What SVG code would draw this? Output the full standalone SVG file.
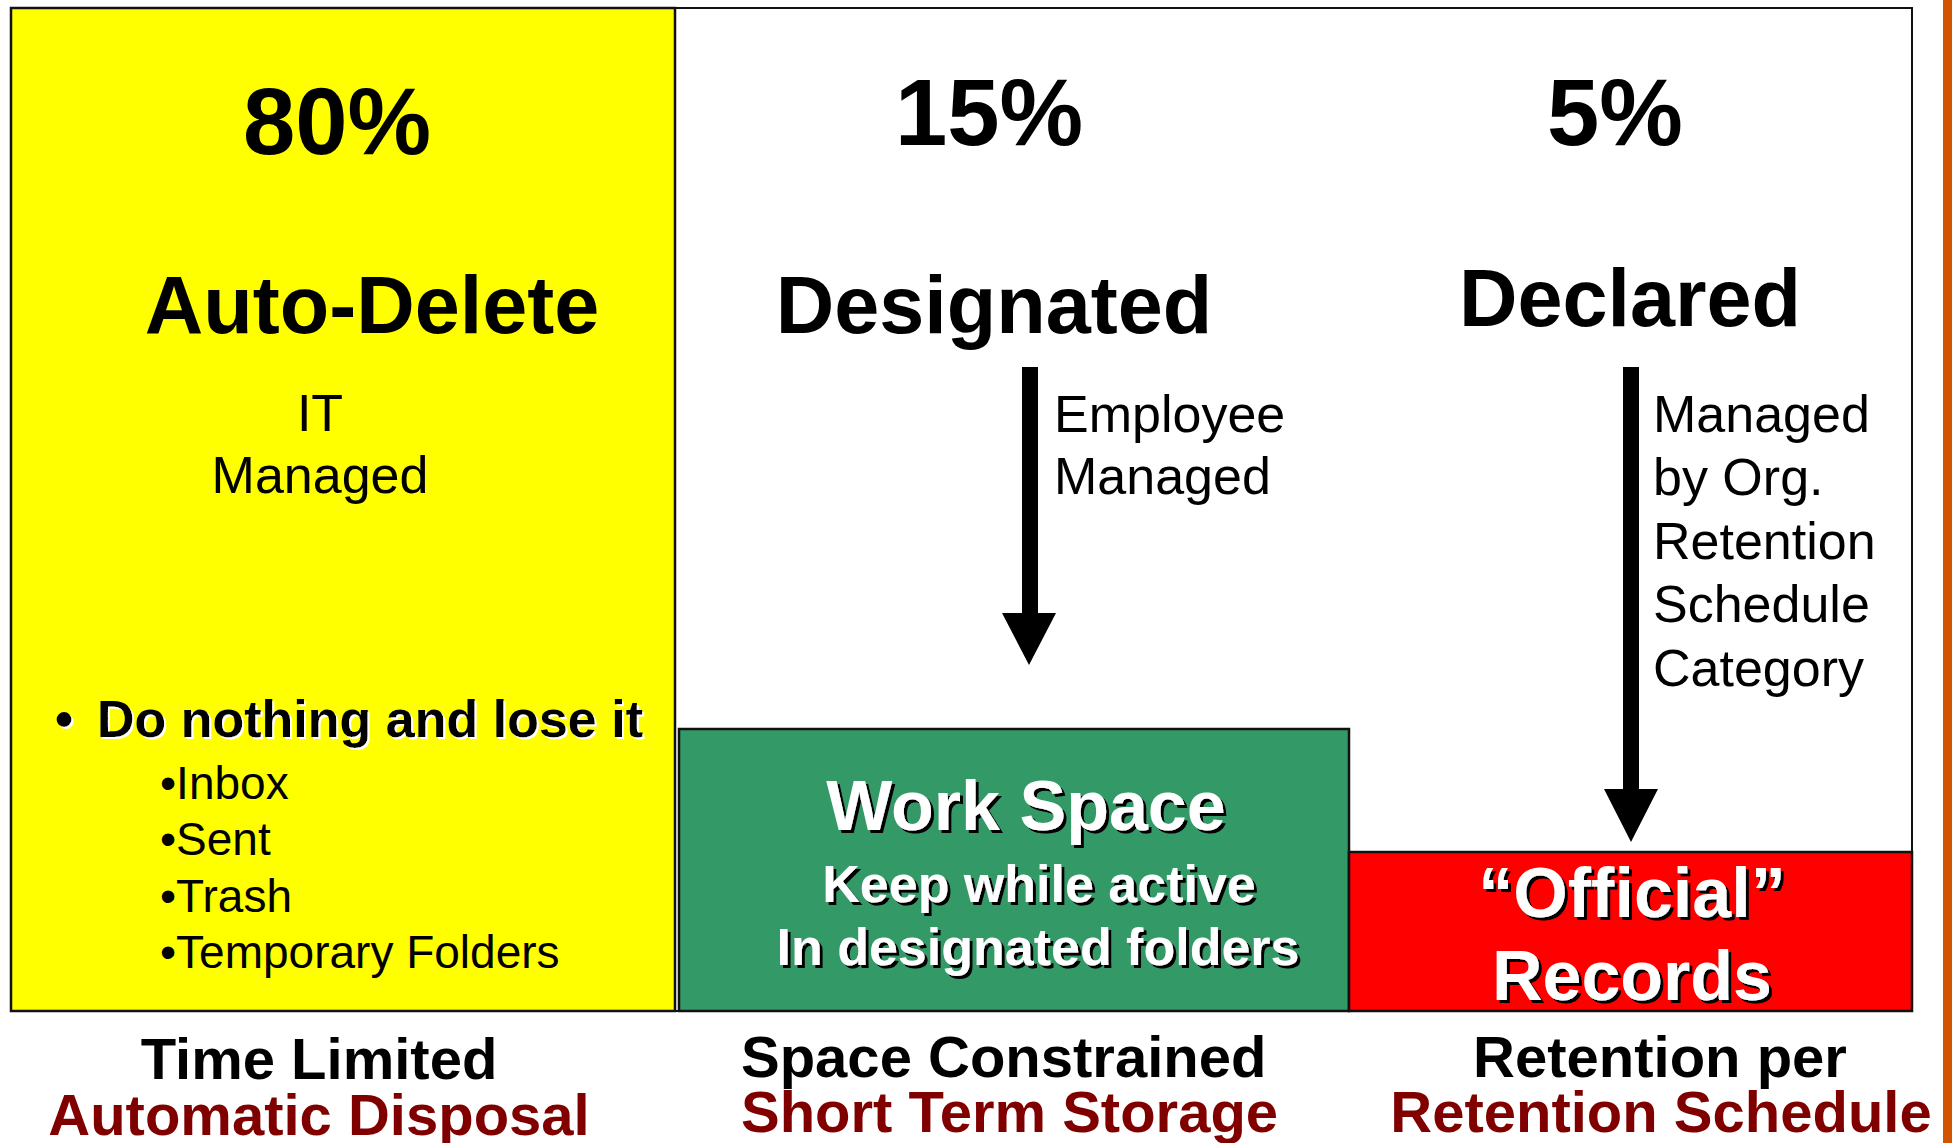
<svg xmlns="http://www.w3.org/2000/svg" width="1952" height="1143" viewBox="0 0 1952 1143">
  <style>
    text { font-family: "Liberation Sans", Arial, sans-serif; }
    .big { font-size: 94px; font-weight: bold; text-anchor: middle; }
    .title { font-size: 81px; font-weight: bold; text-anchor: middle; }
    .reg { font-size: 52px; }
    .item { font-size: 46px; }
    .foot { font-size: 58px; font-weight: bold; text-anchor: middle; }
    .foot-l { font-size: 58px; font-weight: bold; }
    .dark { fill: #800000; }
    .box-title { font-size: 70px; font-weight: bold; fill: #ffffff; text-anchor: middle; filter: url(#shadowDark); }
    .box-sub { font-size: 52px; font-weight: bold; fill: #ffffff; text-anchor: middle; filter: url(#shadowDark); }
    .arrow { fill: #000000; }
  </style>
  <defs>
    <filter id="shadowDark" x="-5%" y="-20%" width="115%" height="150%">
      <feOffset in="SourceAlpha" dx="3" dy="3" result="off"/>
      <feFlood flood-color="#000000"/>
      <feComposite in2="off" operator="in" result="sh"/>
      <feMerge><feMergeNode in="sh"/><feMergeNode in="SourceGraphic"/></feMerge>
    </filter>
    <filter id="shadowLight" x="-5%" y="-20%" width="115%" height="150%">
      <feOffset in="SourceAlpha" dx="2" dy="2" result="off"/>
      <feFlood flood-color="#ffffff"/>
      <feComposite in2="off" operator="in" result="sh"/>
      <feMerge><feMergeNode in="sh"/><feMergeNode in="SourceGraphic"/></feMerge>
    </filter>
  </defs>

  <rect x="0" y="0" width="1952" height="1143" fill="#ffffff"/>
  <!-- accent bar on the right edge -->
  <rect x="1943" y="0" width="9" height="1143" fill="#D35400"/>

  <!-- outer frame for the designated / declared columns -->
  <g id="frame">
    <rect x="675" y="8" width="1237" height="1003" fill="#ffffff" stroke="#111111" stroke-width="2"/>
  </g>

  <!-- auto-delete column -->
  <g id="auto-delete">
    <rect x="11" y="8" width="664" height="1003" fill="#FFFF00" stroke="#111111" stroke-width="2.5"/>
    <text class="big" x="337" y="154">80%</text>
    <text class="title" x="372" y="333">Auto-Delete</text>
    <text class="reg" x="320" y="431" text-anchor="middle">IT</text>
    <text class="reg" x="320" y="493" text-anchor="middle">Managed</text>
    <g filter="url(#shadowLight)">
      <text x="55" y="737" font-size="52" font-weight="bold">•</text>
      <text x="97" y="737" font-size="52" font-weight="bold">Do nothing and lose it</text>
    </g>
    <text class="item" x="160" y="799">•Inbox</text>
    <text class="item" x="160" y="855">•Sent</text>
    <text class="item" x="160" y="912">•Trash</text>
    <text class="item" x="160" y="968">•Temporary Folders</text>
  </g>

  <!-- designated column -->
  <g id="designated">
    <text class="big" x="989" y="145">15%</text>
    <text class="title" x="994" y="333">Designated</text>
    <text class="reg" x="1054" y="432">Employee</text>
    <text class="reg" x="1054" y="494">Managed</text>
  </g>

  <!-- declared column -->
  <g id="declared">
    <text class="big" x="1615" y="145">5%</text>
    <text class="title" x="1630" y="326">Declared</text>
    <text class="reg" x="1653" y="432">Managed</text>
    <text class="reg" x="1653" y="495">by Org.</text>
    <text class="reg" x="1653" y="559">Retention</text>
    <text class="reg" x="1653" y="622">Schedule</text>
    <text class="reg" x="1653" y="686">Category</text>
  </g>

  <!-- work space box -->
  <g id="work-space">
    <rect x="679" y="729" width="670" height="282" fill="#339966" stroke="#111111" stroke-width="2.5"/>
    <text class="box-title" x="1026" y="830">Work Space</text>
    <text class="box-sub" x="1039" y="902">Keep while active</text>
    <text class="box-sub" x="1038" y="965">In designated folders</text>
  </g>

  <!-- official records box -->
  <g id="official-records">
    <rect x="1349" y="852" width="563" height="159" fill="#FF0000" stroke="#111111" stroke-width="2.5"/>
    <text class="box-title" x="1632" y="917">“Official”</text>
    <text class="box-title" x="1632" y="1000">Records</text>
  </g>

  <!-- connectors -->
  <g id="connectors">
    <path class="arrow" d="M1022,367 H1038 V613 H1056 L1029,665 L1002,613 H1022 Z"/>
    <path class="arrow" d="M1623,367 H1639 V789 H1658 L1631,842 L1604,789 H1623 Z"/>
  </g>

  <!-- column captions -->
  <g id="captions">
    <text class="foot" x="319" y="1079">Time Limited</text>
    <text class="foot dark" x="319" y="1135">Automatic Disposal</text>
    <text class="foot-l" x="741" y="1077">Space Constrained</text>
    <text class="foot-l dark" x="741" y="1132">Short Term Storage</text>
    <text class="foot" x="1660" y="1077">Retention per</text>
    <text class="foot dark" x="1661" y="1132">Retention Schedule</text>
  </g>
</svg>
